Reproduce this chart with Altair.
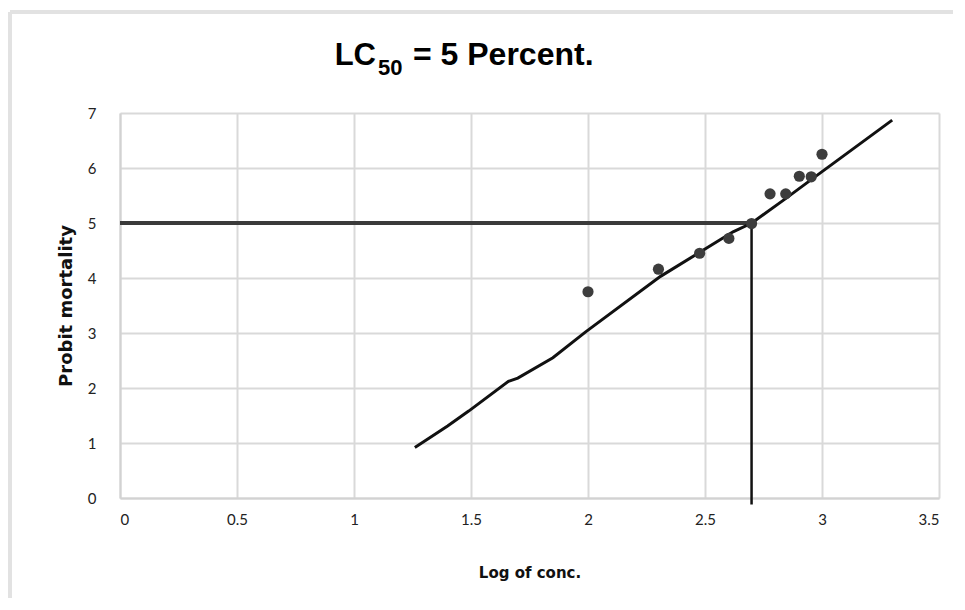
import altair as alt
import pandas as pd

# ---- data ----
log_conc = [2.0, 2.301, 2.477, 2.602, 2.699, 2.778, 2.845, 2.903, 2.954, 3.0]
probit = [3.75, 4.16, 4.45, 4.72, 4.99, 5.53, 5.53, 5.85, 5.84, 6.25]

fit_x = [1.26, 1.40, 1.49, 1.66, 1.70, 1.85, 1.99, 2.31, 2.62, 2.70, 2.84, 2.98, 3.30]
fit_y = [0.92, 1.31, 1.58, 2.12, 2.18, 2.55, 3.02, 4.03, 4.84, 5.00, 5.43, 5.87, 6.87]

lc50_log = 2.699
lc50_probit = 5.0
vline_bottom = -0.12

x_ticks = [0, 0.5, 1, 1.5, 2, 2.5, 3, 3.5]
y_ticks = [0, 1, 2, 3, 4, 5, 6, 7]

title_parts = ["LC", "50", "= 5 Percent."]
x_title = "Log of conc."
y_title = "Probit mortality"

# ---- tables ----
pts = pd.DataFrame({"x": log_conc, "y": probit})
fit = pd.DataFrame({"x": fit_x, "y": fit_y})
hline = pd.DataFrame({"x": [0.0], "x2": [lc50_log], "y": [lc50_probit]})
vline = pd.DataFrame({"x": [lc50_log], "y": [vline_bottom], "y2": [lc50_probit]})
one = pd.DataFrame({"k": [0]})

xscale = alt.Scale(domain=[0, 3.5], nice=False, zero=False)
yscale = alt.Scale(domain=[0, 7], nice=False, zero=False)

X_AX = alt.Axis(title=x_title, values=x_ticks, format="~g", labelPadding=14,
                titlePadding=38, titleFontSize=15, titleFont="DejaVu Sans")
Y_AX = alt.Axis(title=y_title, values=y_ticks, format="~g", labelPadding=24,
                titlePadding=12, titleFontSize=18, titleFont="DejaVu Sans")


def X(f):
    return alt.X(f, type="quantitative", scale=xscale, axis=X_AX)


def Y(f):
    return alt.Y(f, type="quantitative", scale=yscale, axis=Y_AX)


h_layer = alt.Chart(hline).mark_rule(color="#3a3a3a", strokeWidth=4).encode(
    x=X("x"), x2="x2", y=Y("y"))
v_layer = alt.Chart(vline).mark_rule(color="#111111", strokeWidth=2.5).encode(
    x=X("x"), y=Y("y"), y2="y2")
fit_layer = alt.Chart(fit).mark_line(color="#111111", strokeWidth=3).encode(
    x=X("x"), y=Y("y"))
pt_layer = alt.Chart(pts).mark_circle(size=125, color="#3d3d3d", opacity=1).encode(
    x=X("x"), y=Y("y"))

t1 = alt.Chart(pd.DataFrame({"t": [title_parts[0]]})).mark_text(
    font="Liberation Sans", fontWeight="bold", fontSize=31, align="right",
    baseline="alphabetic", color="#000").encode(
    x=alt.value(256), y=alt.value(-48), text="t:N")
t2 = alt.Chart(pd.DataFrame({"t": [title_parts[1]]})).mark_text(
    font="Liberation Sans", fontWeight="bold", fontSize=22, align="left",
    baseline="alphabetic", color="#000").encode(
    x=alt.value(258), y=alt.value(-38), text="t:N")
t3 = alt.Chart(pd.DataFrame({"t": [title_parts[2]]})).mark_text(
    font="Liberation Sans", fontWeight="bold", fontSize=32, align="left",
    baseline="alphabetic", color="#000").encode(
    x=alt.value(293), y=alt.value(-48), text="t:N")

frame_top = alt.Chart(one).mark_rule(color="#e2e2e2", strokeWidth=4).encode(
    x=alt.value(-110), x2=alt.value(833), y=alt.value(-101))
frame_left = alt.Chart(one).mark_rule(color="#e2e2e2", strokeWidth=4).encode(
    x=alt.value(-110), y=alt.value(-101), y2=alt.value(485))

chart = alt.layer(frame_top, frame_left, h_layer, v_layer, fit_layer, pt_layer, t1, t2, t3).properties(
    width=819, height=385,
    padding={"left": 112, "top": 105, "right": 14, "bottom": 100},
    autosize=alt.AutoSizeParams(type="none"),
    background="white",
).configure_view(stroke=None).configure_axis(
    domainColor="#d2d2d2", domainWidth=2, grid=True, gridColor="#d9d9d9", gridWidth=2,
    ticks=False, labelFont="Lato", labelFontSize=15, labelColor="#222222",
    titleFontWeight="bold", titleColor="#111111",
)

chart.save("out.html", embed_options={"renderer": "svg", "actions": False})
